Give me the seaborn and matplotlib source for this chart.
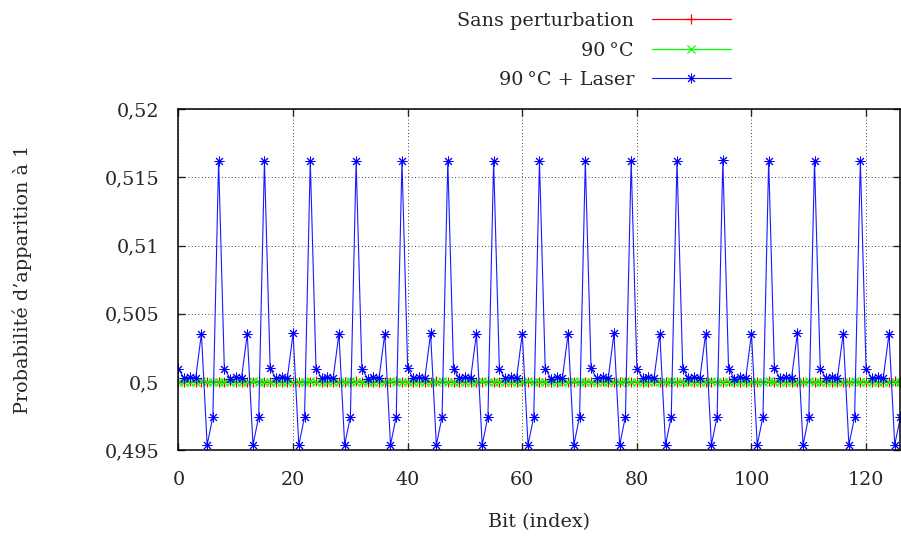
import matplotlib
matplotlib.use("Agg")
import matplotlib.pyplot as plt
import seaborn as sns

# Bit indices (0..126 visible)
bits = list(range(127))

# Probability of a 1 for each bit, three measurement conditions
sans_perturbation = [
    0.50002, 0.49998, 0.50003, 0.49999, 0.50001, 0.49997, 0.50002, 0.50000,
    0.49998, 0.50003, 0.50001, 0.49998, 0.50002, 0.49999, 0.50003, 0.49998,
    0.50001, 0.49999, 0.50002, 0.50000, 0.49997, 0.50002, 0.50001, 0.49998,
    0.50003, 0.49999, 0.50001, 0.49998, 0.50002, 0.50000, 0.49998, 0.50003,
    0.49999, 0.50001, 0.49997, 0.50002, 0.50001, 0.49999, 0.50003, 0.49998,
    0.50000, 0.50002, 0.49998, 0.50001, 0.49999, 0.50003, 0.49998, 0.50001,
    0.50002, 0.49999, 0.49997, 0.50002, 0.50000, 0.49998, 0.50003, 0.50001,
    0.49999, 0.50002, 0.49998, 0.50001, 0.50003, 0.49999, 0.50000, 0.49998,
    0.50002, 0.50001, 0.49997, 0.50003, 0.49999, 0.50002, 0.49998, 0.50000,
    0.50001, 0.49999, 0.50003, 0.49998, 0.50002, 0.50001, 0.49999, 0.49997,
    0.50002, 0.50000, 0.49998, 0.50003, 0.50001, 0.49999, 0.50002, 0.49998,
    0.50001, 0.50003, 0.49999, 0.50000, 0.49998, 0.50002, 0.50001, 0.49997,
    0.50003, 0.49999, 0.50002, 0.49998, 0.50000, 0.50001, 0.49999, 0.50003,
    0.49998, 0.50002, 0.50001, 0.49999, 0.49997, 0.50002, 0.50000, 0.49998,
    0.50003, 0.50001, 0.49999, 0.50002, 0.49998, 0.50001, 0.50003, 0.49999,
    0.50000, 0.49998, 0.50002, 0.50001, 0.49997, 0.50003, 0.49999,
]

chauffe_90 = [
    0.49999, 0.50002, 0.49998, 0.50001, 0.50003, 0.49999, 0.49997, 0.50002,
    0.50000, 0.50002, 0.49998, 0.50001, 0.49999, 0.50003, 0.49998, 0.50001,
    0.50002, 0.49999, 0.50000, 0.49997, 0.50002, 0.50001, 0.49998, 0.50003,
    0.49999, 0.50002, 0.49998, 0.50000, 0.50001, 0.49999, 0.50003, 0.49998,
    0.50002, 0.49999, 0.50001, 0.49998, 0.50000, 0.50003, 0.49999, 0.50002,
    0.49998, 0.50001, 0.49997, 0.50002, 0.50000, 0.49999, 0.50003, 0.49998,
    0.50001, 0.50002, 0.49999, 0.50000, 0.49998, 0.50003, 0.50001, 0.49999,
    0.50002, 0.49998, 0.50000, 0.50001, 0.49999, 0.50003, 0.49998, 0.50002,
    0.49999, 0.50001, 0.50000, 0.49998, 0.50002, 0.50003, 0.49999, 0.50001,
    0.49998, 0.50002, 0.50000, 0.49999, 0.50001, 0.49997, 0.50003, 0.50002,
    0.49998, 0.50001, 0.49999, 0.50000, 0.50002, 0.49998, 0.50003, 0.49999,
    0.50001, 0.49998, 0.50002, 0.50000, 0.49999, 0.50003, 0.49998, 0.50001,
    0.50002, 0.49999, 0.49997, 0.50001, 0.50000, 0.50002, 0.49998, 0.50003,
    0.49999, 0.50001, 0.49998, 0.50002, 0.50000, 0.49999, 0.50003, 0.50001,
    0.49998, 0.50002, 0.49999, 0.50000, 0.50001, 0.49998, 0.50003, 0.49999,
    0.50002, 0.50001, 0.49998, 0.50000, 0.50002, 0.49999, 0.50001,
]

chauffe_90_laser = [
    0.50098, 0.50025, 0.50035, 0.50028, 0.50354, 0.49537, 0.49744, 0.51623,
    0.50098, 0.50024, 0.50036, 0.50027, 0.50354, 0.49537, 0.49745, 0.51622,
    0.50099, 0.50026, 0.50035, 0.50029, 0.50355, 0.49536, 0.49744, 0.51623,
    0.50097, 0.50025, 0.50034, 0.50028, 0.50353, 0.49538, 0.49743, 0.51624,
    0.50098, 0.50024, 0.50036, 0.50028, 0.50354, 0.49537, 0.49744, 0.51623,
    0.50099, 0.50025, 0.50035, 0.50027, 0.50355, 0.49536, 0.49745, 0.51622,
    0.50098, 0.50026, 0.50034, 0.50029, 0.50354, 0.49537, 0.49744, 0.51623,
    0.50097, 0.50025, 0.50036, 0.50028, 0.50353, 0.49538, 0.49743, 0.51623,
    0.50098, 0.50024, 0.50035, 0.50027, 0.50354, 0.49537, 0.49744, 0.51624,
    0.50099, 0.50025, 0.50034, 0.50028, 0.50355, 0.49536, 0.49745, 0.51622,
    0.50098, 0.50026, 0.50036, 0.50029, 0.50354, 0.49537, 0.49744, 0.51623,
    0.50097, 0.50025, 0.50035, 0.50028, 0.50353, 0.49538, 0.49743, 0.51628,
    0.50098, 0.50024, 0.50034, 0.50027, 0.50354, 0.49537, 0.49744, 0.51623,
    0.50099, 0.50025, 0.50036, 0.50028, 0.50355, 0.49536, 0.49745, 0.51622,
    0.50098, 0.50026, 0.50035, 0.50029, 0.50354, 0.49537, 0.49744, 0.51623,
    0.50097, 0.50025, 0.50034, 0.50028, 0.50353, 0.49538, 0.49743,
]

y_ticks = [0.495, 0.5, 0.505, 0.51, 0.515, 0.52]
y_tick_labels = ["0,495", "0,5", "0,505", "0,51", "0,515", "0,52"]
x_ticks = [0, 20, 40, 60, 80, 100, 120]

sns.set_style("ticks")
plt.rcParams["font.family"] = ["DejaVu Serif"]
plt.rcParams["font.size"] = 13.8

fig = plt.figure(figsize=(9.01, 5.36), dpi=100)
ax = fig.add_axes([0.1981, 0.1604, 0.8013, 0.6357])

sns.lineplot(x=bits, y=sans_perturbation, ax=ax, color="#ff0000", lw=0.9,
             marker="+", markersize=7, markeredgecolor="#ff0000",
             markeredgewidth=0.9, label="Sans perturbation")
sns.lineplot(x=bits, y=chauffe_90, ax=ax, color="#00ff00", lw=0.9,
             marker="x", markersize=6, markeredgecolor="#00ff00",
             markeredgewidth=0.9, label="90\u2009°C")
sns.lineplot(x=bits, y=chauffe_90_laser, ax=ax, color="#1a1aff", lw=0.8,
             marker=(8, 2, 0), markersize=7, markeredgecolor="#0000ff",
             markeredgewidth=0.7, label="90\u2009°C + Laser")

ax.set_xlim(0, 126)
ax.set_ylim(0.495, 0.52)
ax.set_xticks(x_ticks)
ax.set_yticks(y_ticks)
ax.set_yticklabels(y_tick_labels)

ax.grid(True, color="black", linestyle=(0, (1, 3)), linewidth=0.6)
ax.tick_params(direction="in", length=5, width=1, top=True, right=True,
               labelsize=13.8)
ax.tick_params(axis="y", pad=14)
ax.tick_params(axis="x", pad=15)
for sp in ax.spines.values():
    sp.set_linewidth(1.1)
    sp.set_color("black")

ax.set_xlabel("Bit (index)", fontsize=13.8)
ax.set_ylabel("Probabilité d’apparition à 1", fontsize=13.8)
ax.xaxis.set_label_coords(0.5, (450 - 522) / 340.7)
ax.xaxis.label.set_va("center")
ax.yaxis.set_label_coords((22 - 178.5) / 722, 0.5)
ax.yaxis.label.set_va("center")

leg = ax.legend(loc="upper right", bbox_to_anchor=(730.7 / 901, 1 - 12 / 536),
                bbox_transform=fig.transFigure, frameon=False,
                markerfirst=False, numpoints=1, handlelength=4.1,
                handletextpad=0.95, labelspacing=0.6, borderpad=0,
                borderaxespad=0, fontsize=13.8)

fig.savefig("out.png", dpi=100)
